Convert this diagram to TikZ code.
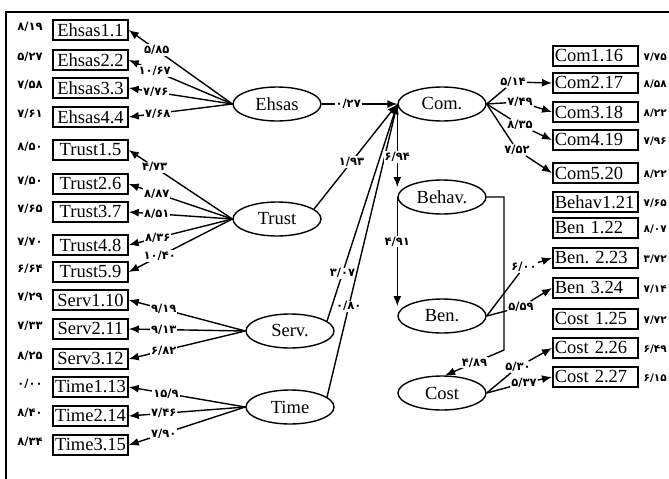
\documentclass[tikz,border=0pt]{standalone}
\usepackage{fontspec}
\setmainfont{Liberation Serif}
\newfontfamily\numfont{DejaVu Sans}
\usetikzlibrary{arrows.meta,shapes.geometric}
\begin{document}
\begin{tikzpicture}[x=1pt,y=-1pt,
  lw/.style={line width=1.4pt},
  arr/.style={lw,-{Latex[length=10pt,width=8pt]}},
  lbox/.style={draw,line width=1.5pt,minimum width=75pt,minimum height=20pt,inner sep=0pt,font=\fontsize{18.5}{20}\selectfont},
  rbox/.style={draw,line width=1.5pt,minimum height=20pt,inner xsep=2pt,inner ysep=0pt,text width=81pt,align=left,anchor=west,font=\fontsize{18.5}{20}\selectfont},
  lat/.style={draw,ellipse,line width=1.4pt,minimum width=88pt,minimum height=34pt,inner sep=0pt,font=\fontsize{18.5}{20}\selectfont},
  lbl/.style={fill=white,inner sep=1pt,font=\numfont\bfseries\fontsize{11.5}{12}\selectfont},
  val/.style={inner sep=0pt,font=\numfont\bfseries\fontsize{11.5}{12}\selectfont},
  rval/.style={inner sep=0pt,anchor=east,font=\numfont\bfseries\fontsize{10.5}{12}\selectfont},
]
\useasboundingbox (0,0) rectangle (669,479);
\clip (0,0) rectangle (669,479);
\fill[white] (0,0) rectangle (669,479);
% frame
\draw[line width=2pt] (6,479) -- (6,11.5) -- (669,11.5);

% left boxes
\node[lbox] (E1) at (90.5,30) {Ehsas1.1};
\node[lbox] (E2) at (90.5,60) {Ehsas2.2};
\node[lbox] (E3) at (90.5,88) {Ehsas3.3};
\node[lbox] (E4) at (90.5,117) {Ehsas4.4};
\node[lbox] (T1) at (90.5,150) {Trust1.5};
\node[lbox] (T2) at (90.5,184) {Trust2.6};
\node[lbox] (T3) at (90.5,212) {Trust3.7};
\node[lbox] (T4) at (90.5,245) {Trust4.8};
\node[lbox] (T5) at (90.5,272) {Trust5.9};
\node[lbox] (S1) at (90.5,300) {Serv1.10};
\node[lbox] (S2) at (90.5,329) {Serv2.11};
\node[lbox] (S3) at (90.5,359) {Serv3.12};
\node[lbox] (Ti1) at (90.5,387) {Time1.13};
\node[lbox] (Ti2) at (90.5,416) {Time2.14};
\node[lbox] (Ti3) at (90.5,445) {Time3.15};

% left values
\node[val] (vE1) at (30,27) {۸/۱۹};
\node[val] (vE2) at (30,57) {۵/۲۷};
\node[val] (vE3) at (30,85) {۷/۵۸};
\node[val] (vE4) at (30,114) {۷/۶۱};
\node[val] (vT1) at (30,147) {۸/۵۰};
\node[val] (vT2) at (30,181) {۷/۵۰};
\node[val] (vT3) at (30,209) {۷/۶۵};
\node[val] (vT4) at (30,242) {۷/۷۰};
\node[val] (vT5) at (30,269) {۶/۶۴};
\node[val] (vS1) at (30,297) {۷/۲۹};
\node[val] (vS2) at (30,326) {۷/۳۳};
\node[val] (vS3) at (30,356) {۸/۲۵};
\node[val] (vTi1) at (30,384) {۰/۰۰};
\node[val] (vTi2) at (30,413) {۸/۴۰};
\node[val] (vTi3) at (30,442) {۸/۳۴};

% latent ellipses
\node[lat] (Ehsas) at (277,104) {Ehsas};
\node[lat] (Trust) at (277,219) {Trust};
\node[lat] (Serv) at (290,331) {Serv.};
\node[lat] (Time) at (290,407) {Time};
\node[lat] (Com) at (442,104) {Com.};
\node[lat] (Behav) at (442,197) {Behav.};
\node[lat] (Ben) at (442,316) {Ben.};
\node[lat] (Cost) at (442,393) {Cost};

% right boxes
\node[rbox] (C16) at (552,56) {Com1.16};
\node[rbox] (C17) at (552,83) {Com2.17};
\node[rbox] (C18) at (552,112) {Com3.18};
\node[rbox] (C19) at (552,140) {Com4.19};
\node[rbox] (C20) at (552,173) {Com5.20};
\node[rbox] (B21) at (552,202) {Behav1.21};
\node[rbox] (B22) at (552,228) {Ben 1.22};
\node[rbox] (B23) at (552,258) {Ben.\ 2.23};
\node[rbox] (B24) at (552,288) {Ben 3.24};
\node[rbox] (C25) at (552,319) {Cost 1.25};
\node[rbox] (C26) at (552,348) {Cost 2.26};
\node[rbox] (C27) at (552,377) {Cost 2.27};

% right values
\node[rval] (vC16) at (667,57) {۷/۷۵};
\node[rval] (vC17) at (667,84) {۸/۵۸};
\node[rval] (vC18) at (667,113) {۸/۲۲};
\node[rval] (vC19) at (667,141) {۷/۹۶};
\node[rval] (vC20) at (667,174) {۸/۲۲};
\node[rval] (vB21) at (667,203) {۷/۶۵};
\node[rval] (vB22) at (667,229) {۸/۰۷};
\node[rval] (vB23) at (667,259) {۳/۷۲};
\node[rval] (vB24) at (667,289) {۷/۱۴};
\node[rval] (vC25) at (667,320) {۷/۷۲};
\node[rval] (vC26) at (667,349) {۶/۴۹};
\node[rval] (vC27) at (667,378) {۶/۱۵};

% Ehsas fan
\draw[arr] (Ehsas.west) -- node[lbl,pos=0.73]{۵/۸۵} (E1.east);
\draw[arr] (Ehsas.west) -- node[lbl,pos=0.75]{۱۰/۶۷} (E2.east);
\draw[arr] (Ehsas.west) -- node[lbl,pos=0.74]{۷/۷۶} (E3.east);
\draw[arr] (Ehsas.west) -- node[lbl,pos=0.72]{۷/۶۸} (E4.east);
% Trust fan
\draw[arr] (Trust.west) -- node[lbl,pos=0.75]{۴/۷۳} (T1.east);
\draw[arr] (Trust.west) -- node[lbl,pos=0.73]{۸/۸۷} (T2.east);
\draw[arr] (Trust.west) -- node[lbl,pos=0.73]{۸/۵۱} (T3.east);
\draw[arr] (Trust.west) -- node[lbl,pos=0.72]{۸/۳۶} (T4.east);
\draw[arr] (Trust.west) -- node[lbl,pos=0.70]{۱۰/۴۰} (T5.east);
% Serv fan
\draw[arr] (Serv.west) -- node[lbl,pos=0.70]{۹/۱۹} (S1.east);
\draw[arr] (Serv.west) -- node[lbl,pos=0.70]{۹/۱۳} (S2.east);
\draw[arr] (Serv.west) -- node[lbl,pos=0.70]{۶/۸۲} (S3.east);
% Time fan
\draw[arr] (Time.west) -- node[lbl,pos=0.68]{۱۵/۹} (Ti1.east);
\draw[arr] (Time.west) -- node[lbl,pos=0.70]{۷/۴۶} (Ti2.east);
\draw[arr] (Time.west) -- node[lbl,pos=0.70]{۷/۹۰} (Ti3.east);

% structural paths to Com
\draw[arr] (Ehsas.east) -- node[lbl,pos=0.35]{۰/۲۷} (Com.west);
\draw[arr] (Trust.15) -- node[lbl,pos=0.45]{۱/۹۳} (Com.west);
\draw[arr] (Serv.15) -- node[lbl,pos=0.22]{۳/۰۷} (Com.west);
\draw[arr] (Time.15) -- node[lbl,pos=0.31]{۰/۸۰} (Com.west);

% Com -> Behav -> Ben, Behav -> Cost
\draw[arr] (Com.west) -- node[lbl,pos=0.64]{۶/۹۴} (Com.west |- Behav.165);
\draw[arr] (Behav.west) -- node[lbl,pos=0.41]{۴/۹۱} (Behav.west |- Ben.165);
\coordinate (bc1) at (504,197);
\coordinate (bc2) at (504,350);
\draw[arr] (Behav.east) -- (bc1) -- (bc2) -- node[lbl,pos=0.5]{۴/۸۹} (Cost.80);

% Com indicators
\node[lbl] (l514) at (513,82) {۵/۱۴};
\node[lbl] (l749) at (520,102) {۷/۴۹};
\node[lbl] (l835) at (520,125) {۸/۳۵};
\node[lbl] (l752) at (517,150) {۷/۵۲};
\draw[lw] (Com.east) -- (l514);
\draw[lw] (Com.east) -- (l749);
\draw[lw] (Com.east) -- (l835);
\draw[lw] (Com.east) -- (l752);
\draw[arr] (l514) -- (C17.west);
\draw[arr] (l749) -- (C18.west);
\draw[arr] (l835) -- (C19.west);
\draw[arr] (l752) -- (C20.west);

% Ben indicators
\node[lbl] (l600) at (524,267) {۶/۰۰};
\node[lbl] (l559) at (521,307) {۵/۵۹};
\draw[lw] (Ben.east) -- (l600);
\draw[lw] (Ben.east) -- (l559);
\draw[arr] (l600) -- (B23.west);
\draw[arr] (l559) -- (B24.west);

% Cost indicators
\node[lbl] (l530) at (518,367) {۵/۳۰};
\node[lbl] (l537) at (524,383) {۵/۳۷};
\draw[lw] (Cost.east) -- (l530);
\draw[lw] (Cost.east) -- (l537);
\draw[arr] (l530) -- (C26.west);
\draw[arr] (l537) -- (C27.west);
\end{tikzpicture}
\end{document}
